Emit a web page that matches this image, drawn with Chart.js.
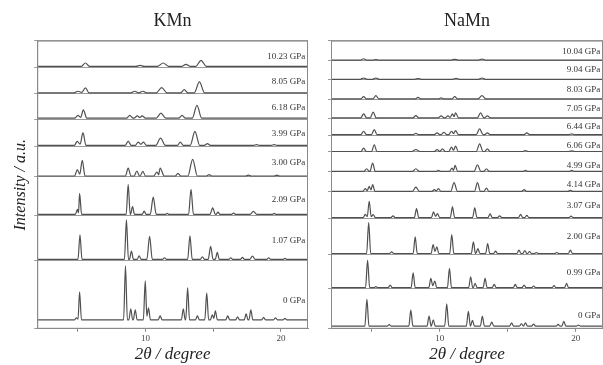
<!DOCTYPE html>
<html>
<head>
<meta charset="utf-8">
<script src="https://cdn.jsdelivr.net/npm/chart.js@4.4.1/dist/chart.umd.min.js"></script>
<style>
	body { margin: 0; background: #fff; }
	#wrap { position: relative; width: 603px; height: 365px; }
	#kmn { position: absolute; left: 0; top: 0; }
	#namn { position: absolute; left: 310px; top: 0; }
</style>
</head>
<body>
<div id="wrap">
	<canvas id="kmn" width="310" height="365"></canvas>
	<canvas id="namn" width="293" height="365"></canvas>
</div>
<script>
// x axis (2θ, degree)
const twoThetaMin = 2;
const twoThetaMax = 22;
const twoThetaTicks = [5, 10, 15, 20];
const twoThetaLabels = [10, 20];

// KMn patterns, listed from bottom (0 GPa) to top; peaks are [2θ, height, base half-width?]
const kmnPressures = ['0 GPa', '1.07 GPa', '2.09 GPa', '3.00 GPa', '3.99 GPa', '6.18 GPa', '8.05 GPa', '10.23 GPa'];
const kmnRows = [0, 68.3, 113.3, 151.7, 182.3, 209.5, 234.7, 261.3, 288];
const kmnWidths = [0.14, 0.15, 0.15, 0.2, 0.22, 0.25, 0.28, 0.3];
const kmnPeaks = [
	[[4.9, 2], [5.13, 28], [8.52, 54], [8.91, 11], [9.24, 10], [9.98, 39], [10.22, 12], [11.08, 4], [12.79, 11], [13.11, 32], [13.83, 4], [14.52, 27], [14.93, 5], [15.16, 9], [16.07, 4], [16.8, 3], [17.43, 6], [17.78, 10], [18.72, 2.5], [19.6, 2], [20.3, 1.5]],
	[[5.16, 24.5], [8.59, 39.5], [8.96, 8.3], [9.53, 3.7], [10.3, 23, 0.2], [11.4, 1.7], [13.28, 23.5, 0.17], [14.2, 2.7], [14.81, 13, 0.18], [15.3, 7], [16.3, 1.7], [17.16, 2], [17.9, 3.3, 0.2], [19.1, 1.7], [20.3, 1]],
	[[4.97, 5], [5.13, 21], [8.72, 30], [9.04, 7.7], [9.9, 3.3], [10.57, 17.3, 0.22], [11.6, 1], [13.36, 25, 0.18], [14.96, 6.5, 0.2], [15.35, 2.2], [16.5, 1.3], [17.97, 3, 0.25], [19.5, 1]],
	[[4.96, 6.3], [5.33, 15.7], [8.72, 8], [9.36, 5], [9.8, 4.7], [10.85, 4, 0.25], [11.08, 8, 0.3], [12.4, 2.7], [13.48, 16.7, 0.35], [14.7, 1.3], [17.6, 0.8], [19.7, 0.8]],
	[[4.96, 4], [5.38, 12.7], [8.72, 4.3], [9.46, 3.3], [9.85, 3.3], [11.11, 7.3, 0.35], [12.57, 3.3], [13.65, 14, 0.35], [14.57, 1.7], [18.2, 0.7], [19.5, 0.7]],
	[[5.01, 2.7], [5.41, 8.3], [8.84, 2.7], [9.4, 2.2], [9.75, 2.2], [11.14, 5, 0.35], [12.7, 2.7], [13.8, 12.7, 0.35]],
	[[5.0, 1.7], [5.56, 5], [9.2, 1.7], [9.8, 1.7], [11.19, 5.3, 0.4], [12.86, 3.3], [13.98, 11, 0.38]],
	[[5.56, 3.3], [9.6, 1], [11.3, 3.3, 0.4], [12.99, 2], [14.1, 6, 0.38]]
];

// NaMn patterns, bottom to top
const namnPressures = ['0 GPa', '0.99 GPa', '2.00 GPa', '3.07 GPa', '4.14 GPa', '4.99 GPa', '6.06 GPa', '6.44 GPa', '7.05 GPa', '8.03 GPa', '9.04 GPa', '10.04 GPa'];
const namnRows = [0, 40.7, 75, 111, 137.3, 157.3, 177.3, 194.3, 211, 230, 249.7, 269, 289];
const namnWidths = [0.15, 0.15, 0.15, 0.16, 0.18, 0.2, 0.2, 0.2, 0.22, 0.22, 0.25, 0.25];
const namnPeaks = [
	[[4.64, 27], [6.28, 1.5], [7.87, 16], [9.21, 10], [9.52, 6.2], [10.51, 22.3], [12.1, 14.7], [12.4, 5.7], [13.13, 9.7], [13.82, 4], [15.28, 3.3], [16.0, 2.3], [16.3, 3.3], [16.9, 2], [18.7, 1.7], [19.12, 4.7], [20.2, 1]],
	[[4.69, 27.7], [5.3, 1], [6.35, 2.7], [8.04, 15], [9.34, 9.3], [9.63, 6.7], [10.71, 19.3], [12.27, 11], [12.6, 4.3], [13.33, 9.3], [14.0, 3.3], [15.55, 3.3], [16.2, 2.7], [16.9, 1.7], [18.4, 2], [19.32, 4.3]],
	[[4.77, 31], [6.46, 1.7], [8.19, 16.7], [9.51, 9], [9.78, 6.7], [10.88, 19], [12.47, 11.7], [12.8, 5], [13.52, 10], [14.1, 2.3], [15.82, 3.5], [16.25, 3], [16.6, 2], [17.1, 1], [18.6, 1], [19.6, 3.5]],
	[[4.52, 3.3], [4.81, 16.3], [5.1, 3], [6.56, 1.7], [8.29, 9], [9.54, 5.7], [9.83, 4], [10.93, 10.7], [12.57, 9.7], [13.7, 3.7], [14.4, 1.7], [15.94, 3.2], [16.4, 2.3], [19.65, 1.5]],
	[[4.52, 2.7], [4.81, 5], [5.06, 6.7], [8.24, 4.3, 0.25], [9.6, 1.7], [9.9, 2.7], [11.05, 8.7, 0.25], [12.77, 8.7, 0.22], [13.43, 3.3], [16.2, 1.7], [19.6, 1]],
	[[4.62, 2.7], [5.06, 8.3], [8.24, 2.7, 0.25], [9.9, 1], [10.9, 3.3], [11.12, 6], [12.77, 6.7, 0.25], [13.43, 2.7], [16.3, 1], [19.7, 1]],
	[[4.4, 3.3], [5.18, 6.7], [8.24, 2, 0.3], [9.8, 2], [10.2, 2.7], [10.86, 4.3], [11.16, 5.3], [12.93, 7.7, 0.25], [13.5, 2.7], [16.3, 1], [19.7, 0.7]],
	[[4.4, 3.3], [5.18, 5], [8.24, 1.3], [9.8, 1.7], [10.3, 2.3], [10.86, 3.3], [11.16, 4], [12.93, 5.7, 0.25], [13.5, 1.7], [16.4, 1.7], [19.7, 0.7]],
	[[4.4, 4], [5.1, 5.7], [8.24, 2.3], [10.1, 2], [10.6, 2], [10.93, 4], [11.16, 5], [13.0, 5, 0.25], [13.5, 2]],
	[[4.4, 2.3], [5.3, 3.3], [8.4, 1.5], [10.1, 1], [11.1, 2.3], [13.1, 3.3, 0.3]],
	[[4.4, 1.3], [5.3, 1.3], [8.4, 0.7], [11.2, 1], [13.1, 1.3]],
	[[4.4, 1.3], [5.3, 0.5], [11.1, 0.7], [13.1, 1]]
];

// layout: where each trace sits in its row and where its pressure label goes
const kmnBaseLift = [9, 1, 1, 1, 1, 1, 1, 1];
const kmnLabelLift = [28, 20, 16, 14, 12.7, 12, 12.6, 10.7];
const namnBaseLift = [2.7, 0.5, 0.5, 0.5, 0.5, 0.5, 0.5, 0.5, 0.5, 0.5, 0.5, 0.5];
const namnLabelLift = [13.3, 16, 17.7, 13, 7, 6.7, 6.7, 8.4, 9.7, 10, 9.7, 9.3];

Chart.defaults.font.family = "'Liberation Serif', 'Times New Roman', serif";
Chart.defaults.color = '#333';

function buildPoints(peaks, base, w) {
	const pts = [{ x: twoThetaMin, y: base }];
	peaks.forEach(([p, h, pw]) => {
		const hw = pw || w;
		const last = pts[pts.length - 1];
		if (pts.length > 1 && last.x > p - hw) {
			const prev = pts[pts.length - 2];
			last.x = (prev.x + p) / 2;
			last.y = base + Math.min(prev.y - base, h) * 0.3;
		} else {
			pts.push({ x: p - hw, y: base });
		}
		pts.push({ x: p, y: base + h });
		pts.push({ x: p + hw, y: base });
	});
	pts.push({ x: twoThetaMax, y: base });
	return pts;
}

const panelDecor = {
	id: 'panelDecor',
	afterDatasetsDraw(chart, args, opts) {
		const { ctx, chartArea, scales } = chart;
		ctx.save();
		ctx.strokeStyle = '#8a8a8a';
		ctx.lineWidth = 1;
		ctx.strokeRect(chartArea.left + 0.5, chartArea.top + 0.5, chartArea.width - 1, chartArea.height - 1);
		ctx.fillStyle = '#333';
		ctx.font = "9px 'Liberation Serif'";
		ctx.textAlign = 'right';
		ctx.textBaseline = 'middle';
		opts.names.forEach((name, i) => {
			const y = scales.y.getPixelForValue(opts.rows[i] + opts.lifts[i]);
			ctx.fillText(name, scales.x.getPixelForValue(21.8), y);
		});
		ctx.restore();
	}
};

function makePanel(canvasId, title, names, rows, peaks, widths, baseLift, labelLift, withYTitle, padding) {
	const datasets = peaks.map((pk, i) => ({
		label: names[i],
		data: buildPoints(pk, rows[i] + baseLift[i], widths[i]),
		borderColor: '#505050',
		borderWidth: 1.2,
		pointRadius: 0,
		cubicInterpolationMode: 'monotone',
		fill: false
	}));

	return new Chart(document.getElementById(canvasId).getContext('2d'), {
		type: 'line',
		data: { datasets: datasets },
		options: {
			responsive: false,
			animation: false,
			layout: { padding: padding },
			scales: {
				x: {
					type: 'linear',
					min: twoThetaMin,
					max: twoThetaMax,
					afterBuildTicks: scale => {
						scale.ticks = twoThetaTicks.map(v => ({ value: v }));
					},
					ticks: {
						padding: 1,
						autoSkip: false,
						maxRotation: 0,
						color: '#444',
						font: { size: 9 },
						callback: v => twoThetaLabels.includes(v) ? String(v) : ''
					},
					grid: { drawOnChartArea: false, drawTicks: true, tickLength: 3, color: '#8a8a8a' },
					border: { color: '#8a8a8a' },
					title: {
						display: true,
						text: '2θ / degree',
						color: '#222',
						font: { size: 17, style: 'italic' },
						padding: { top: 0, bottom: 0 }
					}
				},
				y: {
					type: 'linear',
					min: rows[0],
					max: rows[rows.length - 1],
					afterBuildTicks: scale => {
						scale.ticks = rows.map(v => ({ value: v }));
					},
					ticks: { display: false },
					grid: { color: '#9a9a9a', drawTicks: true, tickLength: 3 },
					border: { color: '#8a8a8a' },
					title: {
						display: withYTitle,
						text: 'Intensity / a.u.',
						color: '#222',
						font: { size: 16, style: 'italic' },
						padding: { top: 4, bottom: 4 }
					}
				}
			},
			plugins: {
				legend: { display: false },
				tooltip: { enabled: false },
				title: {
					display: true,
					text: title,
					fullSize: false,
					color: '#222',
					font: { size: 18, weight: 'normal' },
					padding: { top: 10, bottom: 9 }
				},
				panelDecor: { names: names, rows: rows, lifts: labelLift }
			}
		},
		plugins: [panelDecor]
	});
}

makePanel('kmn', 'KMn', kmnPressures, kmnRows, kmnPeaks, kmnWidths, kmnBaseLift, kmnLabelLift, true,
	{ left: 7, right: 2, top: 0, bottom: 0 });
makePanel('namn', 'NaMn', namnPressures, namnRows, namnPeaks, namnWidths, namnBaseLift, namnLabelLift, false,
	{ left: 18, right: 0, top: 0, bottom: 0 });
</script>
</body>
</html>
